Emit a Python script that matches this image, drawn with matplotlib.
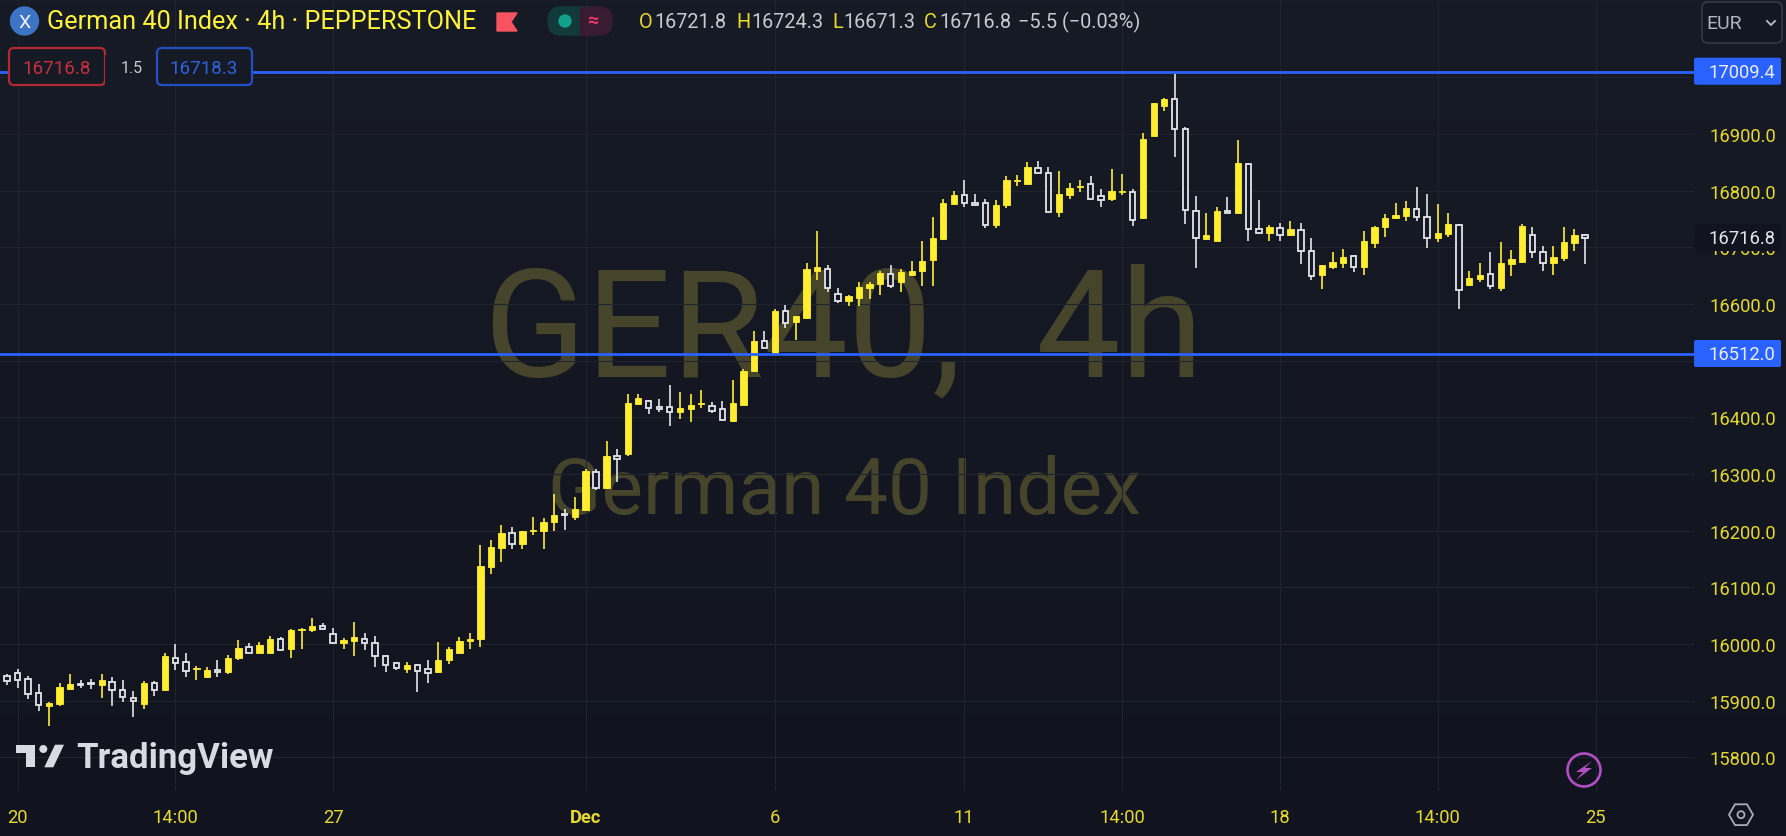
import numpy as np
import matplotlib
matplotlib.use('Agg')
import matplotlib.pyplot as plt
from matplotlib.patches import Circle, FancyBboxPatch, Polygon, Rectangle

plt.rcParams['font.family'] = ['Roboto', 'DejaVu Sans']

opens = [15943,15949,15938,15914,15891,15894,15921,15930,15931,15928,15933,15919,15905,15894,15931,15918,
         15976,15968,15956,15941,15954,15950,15975,15995,15985,15985,16009,15991,16025,16024,16032,16018,
         16001,16005,16009,16002,15978,15966,15956,15963,15956,15950,15971,15985,16006,16008,16135,16169,
         16196,16176,16199,16199,16215,16230,16224,16236,16303,16275,16332,16335,16423,16429,16418,16418,
         16409,16414,16423,16420,16415,16394,16422,16481,16535,16513,16588,16569,16575,16658,16662,16618,
         16606,16610,16629,16635,16653,16638,16651,16658,16677,16714,16776,16792,16779,16778,16739,16774,
         16817,16812,16840,16832,16762,16792,16807,16812,16790,16785,16797,16798,16751,16896,16950,16962,
         16909,16764,16714,16712,16764,16761,16847,16733,16725,16734,16721,16731,16694,16652,16665,16672,
         16685,16665,16707,16735,16751,16755,16768,16754,16716,16723,16740,16633,16644,16653,16628,16670,
         16674,16722,16692,16672,16681,16707,16721.8]
highs = [15947,15956,15944,15929,15898,15931,15947,15936,15938,15947,15942,15936,15917,15935,15934,15984,
         16000,15984,15962,15959,15971,15981,16007,16002,16003,16014,16012,16026,16029,16046,16037,16029,
         16010,16039,16019,16014,15981,15969,15969,15965,15971,16003,15995,16012,16019,16174,16184,16210,
         16206,16199,16224,16222,16264,16238,16259,16309,16309,16358,16344,16441,16441,16431,16432,16457,
         16444,16441,16448,16427,16429,16466,16486,16552,16552,16591,16598,16579,16672,16729,16668,16629,
         16616,16639,16639,16658,16668,16661,16675,16712,16753,16785,16799,16819,16794,16786,16783,16825,
         16827,16850,16852,16841,16834,16813,16819,16825,16803,16838,16829,16803,16901,16954,16963,17005,
         16912,16790,16760,16771,16789,16889,16848,16783,16739,16743,16746,16743,16716,16669,16691,16697,
         16686,16728,16738,16759,16778,16781,16806,16794,16776,16760,16741,16658,16672,16691,16709,16695,
         16741,16736,16702,16702,16736,16732,16724.3]
lows = [15928,15923,15903,15881,15855,15890,15918,15923,15921,15904,15890,15897,15872,15885,15909,15917,
        15955,15941,15936,15940,15941,15947,15971,15984,15984,15984,15988,15975,15991,16022,16025,16000,
        15991,15978,15989,15959,15950,15955,15948,15915,15931,15948,15964,15984,15991,15994,16124,16144,
        16168,16167,16192,16167,16199,16202,16218,16235,16272,16274,16285,16331,16422,16405,16409,16384,
        16397,16391,16416,16407,16393,16391,16421,16480,16522,16512,16557,16536,16574,16642,16622,16601,
        16596,16596,16608,16615,16628,16622,16650,16631,16631,16713,16775,16772,16773,16734,16734,16770,
        16808,16811,16831,16762,16753,16785,16797,16785,16772,16781,16792,16737,16750,16896,16940,16859,
        16742,16663,16713,16711,16760,16760,16711,16723,16712,16712,16720,16670,16642,16626,16661,16664,
        16656,16652,16699,16719,16750,16746,16746,16698,16709,16719,16591,16632,16638,16626,16623,16649,
        16672,16681,16658,16652,16676,16693,16671.3]
closes = [15934,15937,15911,15893,15896,15924,15929,15928,15929,15936,15918,15906,15900,15931,15918,15979,
          15967,15952,15958,15954,15951,15975,15993,15985,15998,16009,15989,16024,16027,16032,16026,16001,
          16007,16012,16001,15978,15963,15958,15963,15953,15949,15972,15991,16005,16009,16137,16172,16196,
          16176,16199,16202,16215,16228,16228,16238,16305,16275,16332,16326,16425,16434,16416,16415,16409,
          16416,16422,16425,16412,16395,16425,16482,16535,16523,16587,16566,16578,16661,16665,16628,16606,
          16614,16630,16635,16654,16631,16656,16658,16676,16717,16778,16792,16778,16774,16739,16775,16818,
          16819,16841,16832,16763,16794,16804,16809,16786,16784,16799,16799,16749,16891,16954,16961,16909,
          16765,16717,16722,16764,16761,16848,16733,16725,16736,16721,16732,16693,16650,16669,16674,16683,
          16666,16711,16736,16752,16757,16769,16753,16717,16725,16741,16624,16646,16651,16631,16672,16679,
          16737,16691,16673,16683,16709,16722,16716.8]

price_ticks = [15800,15900,16000,16100,16200,16300,16400,16500,16600,16700,16800,16900,17000]
hidden_ticks = [16500, 17000]   # covered by the blue tags in the original
date_ticks = [1,16,31,55,73,91,106,121,136,151]
date_labels = ['20','14:00','27','Dec','6','11','14:00','18','14:00','25']
levels = [17009.4, 16512.0]

W, H = 1786, 837
YELLOW = '#ffee30'
TICK = '#e6d92e'
WHITE = '#e4e5ea'
BLUE = '#2962ff'
GRID = '#20242f'
WM = '#46452b'

fig = plt.figure(figsize=(W/100, H/100), dpi=100)

# background + watermark, in pixels
bg = fig.add_axes([0, 0, 1, 1], zorder=0)
top = np.array([23, 27, 38])/255
bottom = np.array([17, 20, 31])/255
t = np.linspace(0, 1, 256)[:, None, None]
bg.imshow(top + (bottom-top)*t, extent=[0, W, H, 0], aspect='auto')
bg.set_xlim(0, W)
bg.set_ylim(H, 0)
bg.axis('off')
bg.text(844, 376, 'GER40,  4h', color=WM, fontsize=108, ha='center', va='baseline')
bg.text(845, 514, 'German 40 Index', color=WM, fontsize=56.5, ha='center', va='baseline')

# price pane
ax = fig.add_axes([0, 1-792/H, 1694/W, 792/H], zorder=1)
ax.patch.set_alpha(0)
x = np.arange(len(opens))
o, h, l, c = map(np.array, (opens, highs, lows, closes))
up = c >= o

ax.vlines(x[up], l[up], h[up], color=YELLOW, lw=1.2, zorder=3)
ax.vlines(x[~up], l[~up], h[~up], color=WHITE, lw=1.2, zorder=3)
ax.bar(x[up], (c-o)[up], bottom=o[up], width=0.6, color=YELLOW, edgecolor=YELLOW, lw=0.6, zorder=4)
ax.bar(x[~up], (o-c)[~up], bottom=c[~up], width=0.52, color='#151925', edgecolor=WHITE, lw=1.3, zorder=4)
for lev in levels:
    ax.axhline(lev, color=BLUE, lw=2.0, zorder=5)

ax.set_xlim(-0.665, 160.36)
ax.set_ylim(15740.6, 17138.2)
ax.set_xticks(date_ticks)
ax.set_xticklabels(date_labels)
ax.set_yticks(price_ticks)
ax.set_yticklabels(['' if p in hidden_ticks else '%.1f' % p for p in price_ticks])
ax.yaxis.tick_right()
ax.tick_params(axis='y', length=0, pad=11, labelsize=13.2, labelcolor=TICK)
ax.tick_params(axis='x', length=0, pad=12, labelsize=13.2, labelcolor=TICK)
ax.get_xticklabels()[3].set_fontweight('bold')
ax.grid(True, color=GRID, lw=0.8)
ax.set_axisbelow(True)
for s in ax.spines.values():
    s.set_visible(False)

# chart furniture on top, in pixels
ov = fig.add_axes([0, 0, 1, 1], zorder=2)
ov.set_xlim(0, W)
ov.set_ylim(H, 0)
ov.axis('off')
ov.patch.set_alpha(0)

# header
ov.add_patch(Circle((24.5, 22), 14, color='#3d74c4'))
ov.text(24.5, 22.5, 'X', color='#f0f2f8', fontsize=14, ha='center', va='center')
ov.text(47, 22, 'German 40 Index · 4h · PEPPERSTONE', color='#fff23a', fontsize=18.2, va='center')
ov.add_patch(Polygon([(497, 14), (517, 14), (511, 23), (517, 32), (497, 32)], color='#f7525f'))
ov.add_patch(FancyBboxPatch((548, 8), 56, 28, boxstyle='round,pad=0,rounding_size=13', color='#123a3a'))
ov.add_patch(FancyBboxPatch((582, 8), 30, 28, boxstyle='round,pad=0,rounding_size=13', color='#3a1c32'))
ov.add_patch(Rectangle((580, 8), 10, 28, color='#3a1c32'))
ov.add_patch(Circle((565, 22), 6, color='#12a08c'))
ov.text(594, 21, '≈', color='#f0386b', fontsize=14, ha='center', va='center', fontweight='bold')

ohlc_x = [639, 736, 832, 924]
ohlc_letters = ['O', 'H', 'L', 'C']
ohlc_vals = ['16721.8', '16724.3', '16671.3', '16716.8']
for px, let, val in zip(ohlc_x, ohlc_letters, ohlc_vals):
    ov.text(px, 22, let, color=TICK, fontsize=14.3, va='center')
    ov.text(px+(11 if let == 'L' else 15), 22, val, color='#c9cad0', fontsize=14.3, va='center')
ov.text(1018, 22, '−5.5 (−0.03%)', color='#c9cad0', fontsize=14.3, va='center')

# bid/ask boxes
ov.add_patch(FancyBboxPatch((9, 49), 96, 37, boxstyle='round,pad=0,rounding_size=5', fc='#161a25', ec='#b22833', lw=1.6))
ov.text(57, 69, '16716.8', color='#c9303e', fontsize=13.5, ha='center', va='center')
ov.add_patch(Rectangle((105, 56), 52, 30, color='#161a25', lw=0))
ov.text(132, 68, '1.5', color='#c9cad0', fontsize=11.5, ha='center', va='center')
ov.add_patch(FancyBboxPatch((157, 49), 95, 37, boxstyle='round,pad=0,rounding_size=5', fc='#161a25', ec='#2350c8', lw=1.6))
ov.text(204, 69, '16718.3', color='#2f62e0', fontsize=13.5, ha='center', va='center')

# right side tags
for y0, lab in zip([58.7, 341], ['17009.4', '16512.0']):
    ov.add_patch(FancyBboxPatch((1694, y0), 87, 27, boxstyle='round,pad=0,rounding_size=2', color=BLUE, lw=0))
    ov.text(1709, y0+14, lab, color='#e8ecfb', fontsize=13.2, va='center')
ov.add_patch(Rectangle((1694, 225), 87, 27, color='#11141e', lw=0))
ov.text(1709, 239, '16716.8', color=WHITE, fontsize=13.2, va='center')
ov.add_patch(FancyBboxPatch((1702, 3), 80, 41, boxstyle='round,pad=0,rounding_size=6', fc='#131722', ec='#363a45', lw=1.2))
ov.text(1706, 24, 'EUR', color='#b2b5be', fontsize=14, va='center')
ov.plot([1767, 1771, 1775], [22, 26, 22], color='#b2b5be', lw=1.4)

# TradingView logo
logo = '#d8dae2'
ov.add_patch(Polygon([(15.7, 745.7), (35, 745.7), (35, 768.3), (26, 768.3), (26, 754), (15.7, 754)], color=logo, lw=0))
ov.add_patch(Circle((43.3, 750), 4, color=logo, lw=0))
ov.add_patch(Polygon([(55, 745.7), (64, 745.7), (53.3, 768.3), (44.3, 768.3)], color=logo, lw=0))
ov.text(76, 768, 'TradingView', color=logo, fontsize=25, fontweight='bold', va='baseline')

# bolt and settings
ov.add_patch(Circle((1584, 771), 16.5, fc='none', ec='#b24fc4', lw=1.9))
ov.add_patch(Polygon([(1592, 762), (1576, 773), (1583, 773), (1576, 781), (1592, 769), (1585, 769)], color='#b24fc4', lw=0))
ang = np.radians(np.arange(0, 360, 60))
ov.add_patch(Polygon(np.c_[1741+12*np.cos(ang), 815.7+12*np.sin(ang)], fc='none', ec='#a9acb8', lw=1.3))
ov.add_patch(Circle((1741, 815.7), 3.5, fc='none', ec='#a9acb8', lw=1.3))

fig.savefig('out.png', dpi=100)
